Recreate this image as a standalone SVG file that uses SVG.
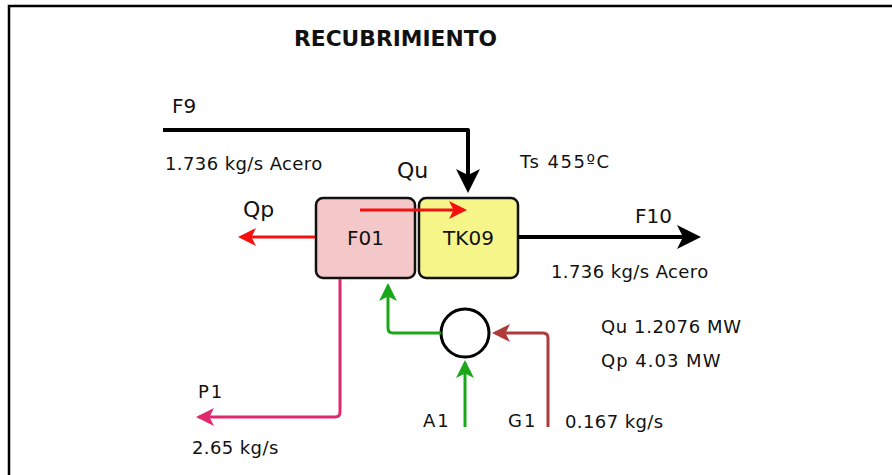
<svg xmlns="http://www.w3.org/2000/svg" width="892" height="475" viewBox="0 0 892 475">
<style>
text{font-family:"DejaVu Sans","Verdana",sans-serif;fill:#111;font-size:18px}
.s{letter-spacing:0.4px}
.b{font-size:22px}
.n{font-size:20px}
.box{stroke:#111;stroke-width:2.5}
.ln{fill:none;stroke-linejoin:round}
</style>
<defs>
<marker id="ak" markerWidth="6" markerHeight="6" refX="5" refY="3" orient="auto" markerUnits="strokeWidth"><path d="M0,0 L6,3 L0,6 L1.5,3 z" fill="#000"/></marker>
<marker id="ar" markerWidth="6" markerHeight="6" refX="5" refY="3" orient="auto" markerUnits="strokeWidth"><path d="M0,0 L6,3 L0,6 L1.5,3 z" fill="#f51010"/></marker>
<marker id="ag" markerWidth="6" markerHeight="6" refX="5" refY="3" orient="auto" markerUnits="strokeWidth"><path d="M0,0 L6,3 L0,6 L1.5,3 z" fill="#1aa81a"/></marker>
<marker id="ab" markerWidth="6" markerHeight="6" refX="5" refY="3" orient="auto" markerUnits="strokeWidth"><path d="M0,0 L6,3 L0,6 L1.5,3 z" fill="#b03a3a"/></marker>
<marker id="ap" markerWidth="6" markerHeight="6" refX="5" refY="3" orient="auto" markerUnits="strokeWidth"><path d="M0,0 L6,3 L0,6 L1.5,3 z" fill="#e0286e"/></marker>
</defs>
<rect width="892" height="475" fill="#fff"/>
<path d="M9,480 V6 H900" fill="none" stroke="#000" stroke-width="2.5"/>
<text x="294" y="46" textLength="203" lengthAdjust="spacingAndGlyphs" style="font-family:'DejaVu Sans Condensed','DejaVu Sans',sans-serif;font-weight:bold;font-size:22px">RECUBRIMIENTO</text>
<g id="F01">
<rect class="box" x="316" y="198" width="99" height="80" rx="7" fill="#f4c8c8"/>
<text x="365.5" y="245" class="n" text-anchor="middle">F01</text>
</g>
<g id="TK09">
<rect class="box" x="419" y="198" width="99" height="80" rx="7" fill="#f6f58a"/>
<text x="468.5" y="245" class="n" text-anchor="middle">TK09</text>
</g>
<g id="mixer">
<circle cx="465" cy="333" r="24" fill="#fff" stroke="#000" stroke-width="3"/>
</g>
<g id="connectors">
<path class="ln" d="M163,130 H468 V189" stroke="#000" stroke-width="4" marker-end="url(#ak)"/>
<path class="ln" d="M518,237 H697" stroke="#000" stroke-width="4" marker-end="url(#ak)"/>
<path class="ln" d="M360,210 H464" stroke="#f51010" stroke-width="3" marker-end="url(#ar)"/>
<path class="ln" d="M315,237 H241" stroke="#f51010" stroke-width="3" marker-end="url(#ar)"/>
<path class="ln" d="M441,333 H393 Q388,333 388,328 V286" stroke="#1aa81a" stroke-width="3" marker-end="url(#ag)"/>
<path class="ln" d="M465,427 V363" stroke="#1aa81a" stroke-width="3" marker-end="url(#ag)"/>
<path class="ln" d="M548,427 V338 Q548,333 543,333 H495" stroke="#b03a3a" stroke-width="3" marker-end="url(#ab)"/>
<path class="ln" d="M340,279 V412 Q340,417 335,417 H199" stroke="#e0286e" stroke-width="3" marker-end="url(#ap)"/>
</g>
<text x="172" y="113" class="n">F9</text>
<text x="165" y="170" class="s">1.736 kg/s Acero</text>
<text x="397" y="178" class="b">Qu</text>
<text x="243" y="217" class="b">Qp</text>
<text x="520" y="168" style="letter-spacing:1.5px">Ts 455ºC</text>
<text x="635" y="223" class="n">F10</text>
<text x="551" y="278" class="s">1.736 kg/s Acero</text>
<text x="601" y="333" style="letter-spacing:0.6px">Qu 1.2076 MW</text>
<text x="601" y="367" style="letter-spacing:1px">Qp 4.03 MW</text>
<text x="198" y="398" style="letter-spacing:2px">P1</text>
<text x="192" y="454" class="s">2.65 kg/s</text>
<text x="423" y="427" style="letter-spacing:2px">A1</text>
<text x="508" y="427" style="letter-spacing:2px">G1</text>
<text x="565" y="428" class="s">0.167 kg/s</text>
</svg>
